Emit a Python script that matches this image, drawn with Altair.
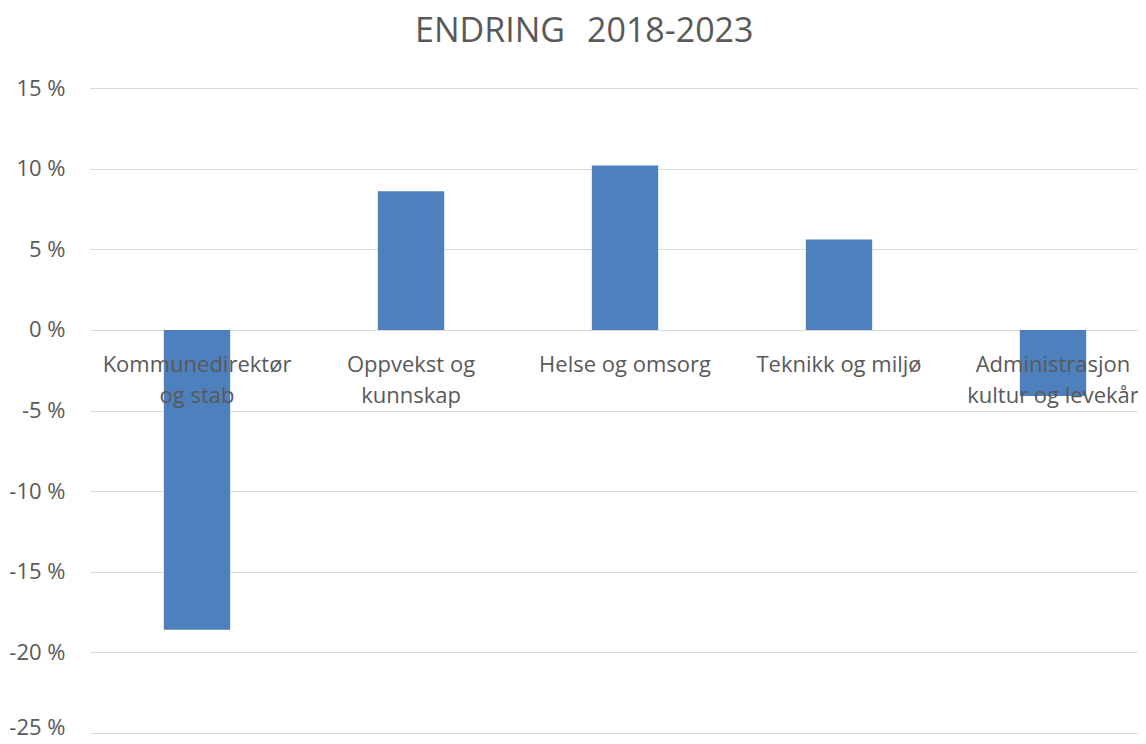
import altair as alt
import pandas as pd

categories = [
    "Kommunedirektør\nog stab",
    "Oppvekst og\nkunnskap",
    "Helse og omsorg",
    "Teknikk og miljø",
    "Administrasjon\nkultur og levekår",
]
values = [-18.6, 8.6, 10.2, 5.6, -4.1]
y_ticks = [-25, -20, -15, -10, -5, 0, 5, 10, 15]
title_words = ["ENDRING", "2018-2023"]

df = pd.DataFrame({"cat": categories, "val": values, "zero": [0] * len(values)})

FONT = "Open Sans"
GREY = "#595959"

x_scale = alt.Scale(domain=categories, range=[0, 1070], paddingInner=0.69, paddingOuter=0.345)
y_scale = alt.Scale(domain=[-25, 15], nice=False, zero=False)

bars = alt.Chart(df).mark_bar(color="#4e80bd").encode(
    x=alt.X("cat:N", scale=x_scale, axis=None, sort=categories),
    y=alt.Y(
        "val:Q",
        scale=y_scale,
        axis=alt.Axis(
            values=y_ticks,
            labelExpr="datum.value + ' %'",
            grid=True,
            gridColor="#d9d9d9",
            gridWidth=1,
            domain=False,
            ticks=False,
            labelPadding=25,
            labelFontSize=22,
            labelFont=FONT,
            labelColor=GREY,
            labelBaseline="middle",
            labelOffset={"condition": {"test": "datum.value == -25", "value": -6}, "value": 0},
            title=None,
        ),
    ),
    y2=alt.Y2("zero:Q"),
)

labels = alt.Chart(df).mark_text(
    font=FONT,
    fontSize=22,
    color=GREY,
    align="center",
    baseline="alphabetic",
    dy=42,
    lineBreak="\n",
    lineHeight=31,
).encode(
    x=alt.X("cat:N", scale=x_scale, axis=None, sort=categories),
    y=alt.Y("zero:Q", scale=y_scale),
    text="cat:N",
)

title1 = alt.Chart(pd.DataFrame({"t": [title_words[0]]})).mark_text(
    font=FONT, fontSize=34, color=GREY, align="right", baseline="alphabetic"
).encode(x=alt.value(475), y=alt.value(-46), text="t:N")

title2 = alt.Chart(pd.DataFrame({"t": [title_words[1]]})).mark_text(
    font=FONT, fontSize=34, color=GREY, align="left", baseline="alphabetic"
).encode(x=alt.value(497), y=alt.value(-46), text="t:N")

chart = (
    alt.layer(bars, labels, title1, title2)
    .properties(
        width=1048,
        height=645,
        autosize=alt.AutoSizeParams(type="none"),
        padding={"left": 82, "top": 80, "right": 0, "bottom": 3},
    )
    .configure_view(stroke=None)
)

chart.save("out.html", embed_options={"renderer": "svg", "actions": False})
